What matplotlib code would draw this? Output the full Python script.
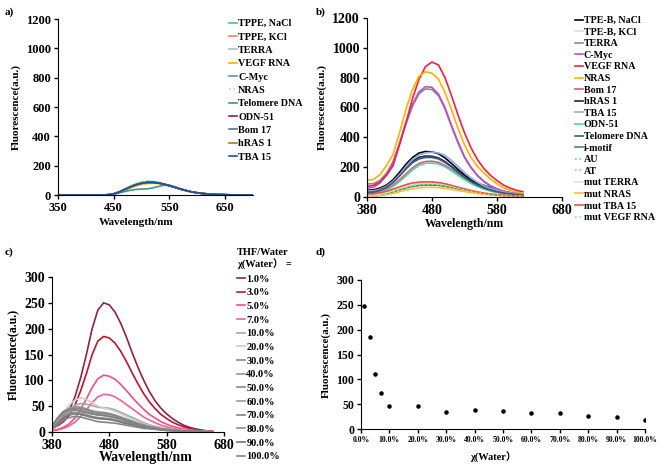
import numpy as np
import matplotlib
matplotlib.use("Agg")
import matplotlib.pyplot as plt

plt.rcParams['font.family'] = ['Liberation Serif', 'Noto Sans CJK SC']
plt.rcParams['font.weight'] = 'bold'
plt.rcParams['axes.labelweight'] = 'bold'

# ---------- panel a: TPPE ----------
wl_a = np.arange(350, 701, 10)
base_a = [0, 0, 0, 0, 0, 0, 0, 0, 0, 2, 8, 20, 38, 55, 70, 80, 86, 86, 82, 74,
          63, 52, 40, 30, 21, 15, 10, 7, 5, 3, 2, 1, 1, 0, 0, 0]
low_a = [0, 0, 0, 0, 0, 0, 0, 0, 0, 2, 6, 14, 24, 32, 38, 40, 42, 48, 58, 66,
         68, 56, 43, 32, 22, 15, 10, 7, 5, 3, 2, 1, 1, 0, 0, 0]
top_a = [0, 0, 0, 0, 0, 0, 0, 0, 0, 2, 9, 23, 42, 60, 76, 87, 93, 92, 86, 76,
         64, 52, 40, 30, 21, 15, 10, 7, 5, 3, 2, 1, 1, 0, 0, 0]
veg_a = [0, 0, 0, 0, 0, 0, 0, 0, 0, 1, 6, 16, 32, 48, 62, 72, 78, 80, 78, 72,
         62, 51, 40, 30, 21, 15, 10, 7, 5, 3, 2, 1, 1, 0, 0, 0]
labels_a = ["TPPE, NaCl", "TPPE, KCl", "TERRA", "VEGF RNA", "C-Myc", "NRAS",
            "Telomere DNA", "ODN-51", "Bom 17", "hRAS 1", "TBA 15"]
colors_a = ["#4cc47a", "#ff7f5e", "#b4bcc4", "#ffb400", "#6a8caf", "#98ee90",
            "#3c9a8c", "#8b2252", "#5f6f80", "#a08030", "#2050a0"]
series_a = [top_a, base_a, base_a, veg_a, base_a, top_a,
            low_a, base_a, base_a, base_a, base_a]

# ---------- panel b: TPE-B ----------
wl_b = np.arange(380, 621, 10)
b_nacl = [45, 48, 60, 80, 115, 165, 220, 265, 295, 305, 302, 290, 262, 225, 185,
          148, 115, 90, 78, 62, 48, 37, 28, 22, 18]
b_kcl = [10, 12, 18, 27, 40, 56, 70, 80, 86, 88, 87, 83, 76, 67, 57, 47, 38, 30,
         23, 18, 14, 11, 8, 6, 5]
b_terra = [88, 90, 112, 160, 235, 355, 490, 610, 692, 725, 720, 678, 590, 472,
           362, 265, 195, 142, 102, 73, 53, 39, 29, 22, 17]
b_cmyc = [60, 65, 95, 150, 230, 360, 500, 620, 705, 740, 735, 690, 600, 480, 370,
          270, 200, 145, 105, 75, 55, 40, 30, 22, 18]
b_vegf = [72, 78, 100, 145, 210, 350, 500, 660, 790, 875, 905, 885, 800, 680,
          550, 430, 330, 250, 190, 145, 110, 80, 60, 45, 35]
b_nras = [112, 118, 150, 210, 285, 430, 590, 720, 810, 840, 830, 790, 700, 585,
          460, 350, 265, 205, 160, 120, 88, 62, 45, 32, 24]
b_bom = [25, 28, 38, 55, 80, 115, 155, 195, 225, 238, 240, 232, 212, 183, 152,
         122, 95, 73, 56, 43, 33, 25, 19, 15, 12]
b_hras = [35, 38, 50, 70, 102, 148, 198, 240, 266, 275, 273, 262, 238, 205, 170,
          137, 107, 82, 63, 48, 37, 28, 22, 17, 14]
b_tba = [40, 42, 52, 72, 105, 150, 205, 250, 282, 296, 300, 295, 278, 245, 205,
         165, 128, 98, 76, 58, 44, 34, 26, 20, 16]
b_odn = [18, 20, 30, 46, 70, 103, 142, 182, 212, 226, 228, 222, 203, 176, 146,
         117, 91, 70, 53, 40, 30, 23, 17, 13, 10]
b_telo = [30, 33, 45, 65, 96, 140, 188, 230, 255, 265, 265, 255, 232, 200, 165,
          132, 103, 79, 60, 46, 35, 27, 21, 16, 13]
b_imotif = [5, 7, 12, 20, 32, 47, 60, 70, 77, 80, 80, 78, 72, 64, 55, 45, 36, 28,
            22, 17, 13, 10, 8, 6, 5]
b_au = [8, 10, 16, 25, 38, 54, 70, 82, 89, 92, 91, 87, 80, 70, 59, 48, 38, 30,
        23, 18, 14, 10, 8, 6, 5]
b_at = [15, 17, 24, 34, 48, 64, 80, 92, 99, 101, 100, 96, 88, 77, 65, 53, 42,
        33, 26, 20, 15, 11, 9, 7, 5]
b_mterra = [12, 14, 20, 30, 44, 60, 75, 86, 93, 96, 95, 91, 84, 74, 62, 51, 40,
            32, 25, 19, 14, 11, 8, 6, 5]
b_mnras = [3, 5, 9, 15, 24, 35, 46, 55, 61, 64, 65, 63, 58, 51, 44, 36, 29, 23,
           18, 14, 10, 8, 6, 5, 4]
b_mtba = [20, 22, 28, 38, 52, 68, 83, 94, 100, 102, 101, 97, 89, 78, 66, 54, 43,
          34, 26, 20, 15, 12, 9, 7, 5]
b_mvegf = [6, 8, 13, 21, 33, 48, 63, 75, 83, 86, 86, 83, 77, 68, 58, 47, 37, 29,
           22, 17, 13, 10, 8, 6, 5]
labels_b = ["TPE-B, NaCl", "TPE-B, KCl", "TERRA", "C-Myc", "VEGF RNA", "NRAS",
            "Bom 17", "hRAS 1", "TBA 15", "ODN-51", "Telomere DNA", "i-motif",
            "AU", "AT", "mut TERRA", "mut NRAS", "mut TBA 15", "mut VEGF RNA"]
colors_b = ["#000000", "#d8e0e8", "#7f8fa0", "#c050c0", "#f5203c", "#ffb300",
            "#f04a88", "#1f2a44", "#90a8e0", "#3ee09a", "#3a5a82", "#4a8a6a",
            "#60e060", "#f4a060", "#dde3e8", "#ffc030", "#ff4a40", "#90ee90"]
series_b = [b_nacl, b_kcl, b_terra, b_cmyc, b_vegf, b_nras, b_bom, b_hras,
            b_tba, b_odn, b_telo, b_imotif, b_au, b_at, b_mterra, b_mnras,
            b_mtba, b_mvegf]
styles_b = ['-'] * 12 + [':', ':', '-', '-', '-', ':']

# ---------- panel c: THF/Water ----------
wl_c = np.arange(380, 661, 10)
c01 = [10, 15, 25, 42, 68, 105, 150, 200, 236, 250, 246, 232, 210, 183, 153,
       125, 100, 78, 60, 46, 35, 26, 19, 13, 9, 6, 4, 2, 1]
c03 = [8, 12, 20, 32, 52, 80, 113, 150, 176, 185, 182, 172, 156, 136, 114, 93,
       74, 58, 45, 34, 26, 19, 14, 10, 7, 5, 3, 2, 1]
c05 = [3, 5, 9, 16, 27, 44, 64, 86, 103, 110, 108, 102, 92, 80, 67, 55, 44, 34,
       27, 20, 15, 11, 8, 6, 4, 3, 2, 1, 1]
c07 = [2, 4, 7, 12, 19, 30, 43, 57, 68, 73, 72, 68, 61, 53, 45, 37, 29, 23, 18,
       13, 10, 7, 5, 4, 3, 2, 1, 1, 0]
c10 = [6, 15, 30, 43, 52, 55, 54, 51, 48, 47, 46, 43, 38, 33, 28, 23, 18, 14,
       11, 8, 6, 5, 4, 3, 2, 2, 1, 1, 0]
c20 = [8, 20, 38, 52, 62, 66, 63, 57, 50, 46, 44, 40, 35, 30, 25, 20, 16, 13,
       10, 8, 6, 5, 4, 3, 2, 2, 1, 1, 0]
c30 = [7, 18, 32, 41, 45, 45, 42, 38, 36, 35, 34, 31, 27, 23, 19, 16, 13, 10, 8,
       6, 5, 4, 3, 2, 2, 1, 1, 1, 0]
c40 = [10, 24, 38, 46, 49, 48, 45, 41, 39, 38, 36, 33, 29, 25, 21, 17, 14, 11,
       9, 7, 5, 4, 3, 2, 2, 1, 1, 1, 0]
c50 = [9, 22, 35, 43, 46, 46, 43, 39, 37, 36, 35, 32, 28, 24, 20, 16, 13, 10, 8,
       6, 5, 4, 3, 2, 2, 1, 1, 1, 0]
c60 = [8, 20, 33, 40, 42, 41, 38, 35, 33, 32, 31, 28, 25, 21, 18, 15, 12, 9, 7,
       6, 4, 3, 3, 2, 1, 1, 1, 0, 0]
c70 = [12, 28, 40, 44, 43, 41, 38, 35, 33, 32, 30, 28, 25, 21, 18, 15, 12, 9, 7,
       6, 4, 3, 3, 2, 1, 1, 1, 0, 0]
c80 = [7, 18, 30, 36, 38, 37, 34, 30, 28, 27, 26, 24, 21, 18, 15, 12, 10, 8, 6,
       5, 4, 3, 2, 2, 1, 1, 1, 0, 0]
c90 = [6, 16, 27, 33, 35, 34, 31, 28, 26, 25, 24, 22, 19, 16, 14, 11, 9, 7, 6,
       4, 3, 3, 2, 2, 1, 1, 1, 0, 0]
c100 = [5, 14, 23, 28, 30, 29, 26, 23, 20, 19, 18, 17, 15, 13, 11, 9, 7, 6, 5,
        4, 3, 2, 2, 1, 1, 1, 0, 0, 0]
labels_c = ["1.0%", "3.0%", "5.0%", "7.0%", "10.0%", "20.0%", "30.0%", "40.0%",
            "50.0%", "60.0%", "70.0%", "80.0%", "90.0%", "100.0%"]
colors_c = ["#8b2545", "#c0142e", "#f25085", "#f2609a", "#a6a6a6", "#cccccc",
            "#8c8c8c", "#969696", "#8a8a8a", "#9a9a9a", "#808080", "#8e8e8e",
            "#777777", "#858585"]
series_c = [c01, c03, c05, c07, c10, c20, c30, c40, c50, c60, c70, c80, c90, c100]

# ---------- panel d: intensity vs water fraction ----------
water = [1, 3, 5, 7, 10, 20, 30, 40, 50, 60, 70, 80, 90, 100]
peak = [248, 185, 110, 73, 47, 46, 35, 38, 36, 32, 32, 27, 25, 19]
d_ticks = [0, 10, 20, 30, 40, 50, 60, 70, 80, 90, 100]
d_ticklabels = ["0.0%", "10.0%", "20.0%", "30.0%", "40.0%", "50.0%", "60.0%",
                "70.0%", "80.0%", "90.0%", "100.0%"]

W, H = 661, 470
fig = plt.figure(figsize=(W / 100, H / 100), dpi=100)


def px_axes(l, t, r, b):
    return fig.add_axes([l / W, 1 - b / H, (r - l) / W, (b - t) / H])


def style(ax, tick_fs):
    for s in ['top', 'right']:
        ax.spines[s].set_visible(False)
    ax.tick_params(direction='out', length=3, width=1, labelsize=tick_fs, pad=2)
    for lab in ax.get_xticklabels() + ax.get_yticklabels():
        lab.set_fontweight('bold')


# a
ax_a = px_axes(58, 19, 253, 195)
for lab, col, ys in zip(labels_a, colors_a, series_a):
    ax_a.plot(wl_a, ys, color=col, lw=1.2, label=lab,
              ls=':' if lab == "NRAS" else '-')
ax_a.set_xlim(350, 700)
ax_a.set_ylim(0, 1200)
ax_a.set_xticks([350, 450, 550, 650])
ax_a.set_yticks(range(0, 1201, 200))
style(ax_a, 9)
ax_a.set_xlabel("Wavelength/nm", fontsize=8, labelpad=1)
ax_a.xaxis.set_label_coords(0.40, -0.13)
ax_a.set_ylabel("Fluorescence(a.u.)", fontsize=8, labelpad=4)
ax_a.legend(loc='upper left', bbox_to_anchor=(229 / W, 1 - 19 / H),
            bbox_transform=fig.transFigure, frameon=False, fontsize=7.3,
            handlelength=0.8, handletextpad=0.1, labelspacing=0.42,
            borderpad=0, borderaxespad=0)

# b
ax_b = px_axes(367, 18, 562, 197)
for lab, col, ys, ls in zip(labels_b, colors_b, series_b, styles_b):
    ax_b.plot(wl_b, ys, color=col, lw=1.2, label=lab, ls=ls)
ax_b.set_xlim(380, 680)
ax_b.set_ylim(0, 1200)
ax_b.set_xticks([380, 480, 580, 680])
ax_b.set_yticks(range(0, 1201, 200))
style(ax_b, 10)
ax_b.set_xlabel("Wavelength/nm", fontsize=8.5, labelpad=1)
ax_b.set_ylabel("Fluorescence(a.u.)", fontsize=8, labelpad=4)
ax_b.legend(loc='upper left', bbox_to_anchor=(575 / W, 1 - 16 / H),
            bbox_transform=fig.transFigure, frameon=False, fontsize=7.2,
            handlelength=0.8, handletextpad=0.1, labelspacing=0.26,
            borderpad=0, borderaxespad=0)

# c
ax_c = px_axes(52, 277, 224, 432)
for lab, col, ys in zip(labels_c, colors_c, series_c):
    ax_c.plot(wl_c, ys, color=col, lw=1.2, label=lab)
ax_c.set_xlim(380, 680)
ax_c.set_ylim(0, 300)
ax_c.set_xticks([380, 480, 580, 680])
ax_c.set_yticks(range(0, 301, 50))
style(ax_c, 10)
ax_c.set_xlabel("Wavelength/nm", fontsize=10, labelpad=2)
ax_c.xaxis.set_label_coords(0.547, -0.12)
ax_c.set_ylabel("Fluorescence(a.u.)", fontsize=8.5, labelpad=4)
leg_c = ax_c.legend(loc='upper left', bbox_to_anchor=(237 / W, 1 - 248 / H),
                    bbox_transform=fig.transFigure, frameon=False, fontsize=7.5,
                    title="THF/Water\nχ(Water\uff09 =", title_fontsize=7.5,
                    alignment='left', handlelength=0.8, handletextpad=0.1,
                    labelspacing=0.42, borderpad=0, borderaxespad=0)
leg_c.get_title().set_fontweight('bold')

# d
ax_d = px_axes(361, 280, 645, 429)
ax_d.scatter(water, peak, s=5, color='black', zorder=3)
ax_d.set_xlim(0, 100)
ax_d.set_ylim(0, 300)
ax_d.set_xticks(d_ticks)
ax_d.set_xticklabels(d_ticklabels)
ax_d.set_yticks(range(0, 301, 50))
style(ax_d, 8.5)
ax_d.tick_params(axis='x', labelsize=5.6)
ax_d.set_xlabel("χ(Water\uff09", fontsize=7.5, labelpad=8)
ax_d.xaxis.set_label_coords(0.465, -0.15)
ax_d.set_ylabel("Fluorescence(a.u.)", fontsize=8, labelpad=4)

# panel letters
for txt, x, y in [("a)", 5, 12), ("b)", 316, 12), ("c)", 5, 252), ("d)", 316, 252)]:
    fig.text(x / W, 1 - y / H, txt, fontsize=8, fontweight='bold', va='center')

fig.savefig("out.png", dpi=100)
